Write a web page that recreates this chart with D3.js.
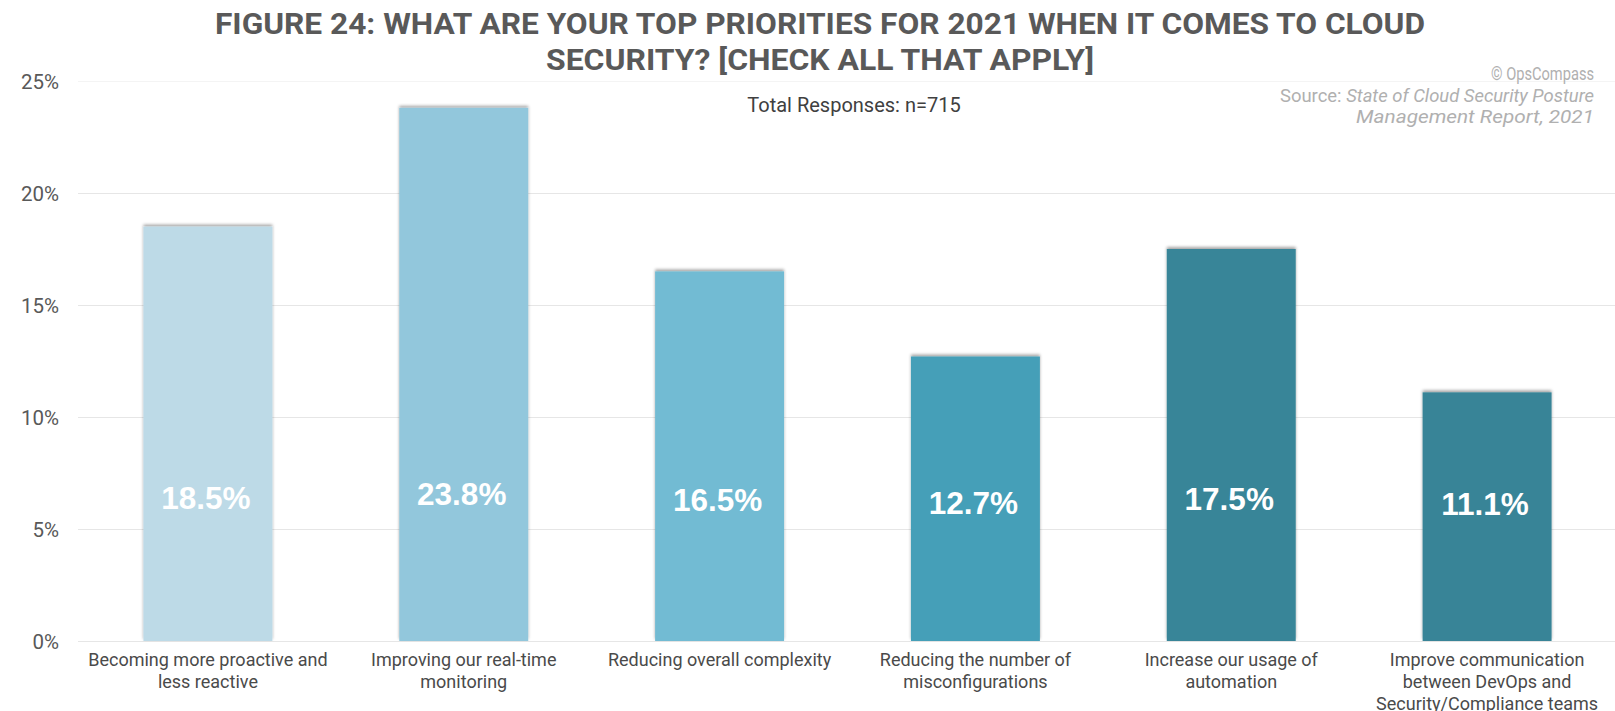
<!DOCTYPE html>
<html>
<head>
<meta charset="utf-8">
<script src="https://cdn.jsdelivr.net/npm/d3@7"></script>
<style>
  html, body { margin: 0; padding: 0; background: #fff; }
  svg { display: block; }
</style>
</head>
<body>
<svg id="chart" width="1615" height="711"></svg>
<script>
// Priorities for cloud security in 2021 (share of respondents, %)
const categories = [
  ["Becoming more proactive and", "less reactive"],
  ["Improving our real-time", "monitoring"],
  ["Reducing overall complexity"],
  ["Reducing the number of", "misconfigurations"],
  ["Increase our usage of", "automation"],
  ["Improve communication", "between DevOps and", "Security/Compliance teams"]
];
const values = [18.5, 23.8, 16.5, 12.7, 17.5, 11.1];
const barColors = ["#bddae7", "#92c7dc", "#72bbd3", "#459fb8", "#388598", "#378497"];
const yTicks = [0, 5, 10, 15, 20, 25];
const titleLines = [
  "FIGURE 24: WHAT ARE YOUR TOP PRIORITIES FOR 2021 WHEN IT COMES TO CLOUD",
  "SECURITY? [CHECK ALL THAT APPLY]"
];
const subtitle = "Total Responses: n=715";

const svg = d3.select("#chart");
const W = 1615;

const x = d3.scaleBand()
  .domain(d3.range(values.length))
  .range([80, 1615])
  .paddingInner(0.496)
  .paddingOuter(0.248);

const y = d3.scaleLinear().domain([0, 25]).range([641, 81]);

// soft shadow around each bar
const defs = svg.append("defs");
const f = defs.append("filter").attr("id", "barShadow")
  .attr("x", "-10%").attr("y", "-10%").attr("width", "120%").attr("height", "120%");
f.append("feDropShadow")
  .attr("dx", 0).attr("dy", -2)
  .attr("stdDeviation", 1.8)
  .attr("flood-color", "#000")
  .attr("flood-opacity", 0.35);

// gridlines + y tick labels
const yAxis = d3.axisLeft(y)
  .tickValues(yTicks)
  .tickSize(-(W - 78))
  .tickFormat(d => d + "%")
  .tickPadding(19);

const gy = svg.append("g").attr("transform", "translate(78,0)").call(yAxis);
gy.select(".domain").remove();
gy.selectAll(".tick line")
  .attr("stroke", d => d === 25 ? "#f4f4f4" : "#e6e6e6")
  .attr("stroke-width", 1.2);
gy.selectAll(".tick text")
  .attr("fill", "#595959")
  .style("font-family", "Roboto, 'Noto Sans', sans-serif")
  .style("font-size", "20.5px")
  .attr("dy", "0.36em");

// bars
svg.append("g").selectAll("rect")
  .data(values)
  .join("rect")
  .attr("x", (d, i) => x(i))
  .attr("width", x.bandwidth())
  .attr("y", d => y(d))
  .attr("height", d => y(0) - y(d))
  .attr("fill", (d, i) => barColors[i])
  .attr("filter", "url(#barShadow)");

// value labels inside bars
svg.append("g").selectAll("text")
  .data(values)
  .join("text")
  .attr("x", (d, i) => x(i) + x.bandwidth() / 2 - 2)
  .attr("y", d => y(5.74 + 0.035 * d))
  .attr("dy", "0.36em")
  .attr("text-anchor", "middle")
  .attr("fill", "#fff")
  .style("font-family", "'Liberation Sans', Arial, sans-serif")
  .style("font-weight", "bold")
  .style("font-size", "31.5px")
  .text(d => d.toFixed(1) + "%");

// category labels
const xl = svg.append("g").selectAll("text")
  .data(categories)
  .join("text")
  .attr("x", (d, i) => x(i) + x.bandwidth() / 2)
  .attr("y", 660)
  .attr("text-anchor", "middle")
  .attr("fill", "#4a4a4a")
  .style("font-family", "Roboto, 'Noto Sans', sans-serif")
  .style("font-size", "18px");
xl.each(function(lines) {
  const t = d3.select(this);
  lines.forEach((ln, k) => {
    t.append("tspan")
      .attr("x", t.attr("x"))
      .attr("y", 660 + k * 21.7)
      .attr("dy", "0.36em")
      .text(ln);
  });
});

// title
const titleWidths = [1210, 548];
svg.append("g").selectAll("text")
  .data(titleLines)
  .join("text")
  .attr("x", 820)
  .attr("y", (d, i) => 23 + i * 36)
  .attr("dy", "0.36em")
  .attr("text-anchor", "middle")
  .attr("fill", "#595959")
  .attr("textLength", (d, i) => titleWidths[i])
  .attr("lengthAdjust", "spacingAndGlyphs")
  .style("font-family", "Roboto, sans-serif")
  .style("font-weight", "bold")
  .style("font-size", "30px")
  .text(d => d);

svg.append("text")
  .attr("x", 854).attr("y", 105).attr("dy", "0.36em")
  .attr("text-anchor", "middle")
  .attr("fill", "#404040")
  .style("font-family", "Roboto, sans-serif")
  .style("font-size", "20px")
  .text(subtitle);

// source note, top right
const src = svg.append("g")
  .attr("fill", "#b0b0b0")
  .style("font-family", "Roboto, sans-serif")
  .style("font-size", "17.5px")
  .attr("text-anchor", "end");
src.append("text").attr("x", 1594).attr("y", 74).attr("dy", "0.36em")
  .attr("textLength", 103).attr("lengthAdjust", "spacingAndGlyphs")
  .text("© OpsCompass");
const s2 = src.append("text").attr("x", 1594).attr("y", 96).attr("dy", "0.36em")
  .attr("textLength", 314).attr("lengthAdjust", "spacingAndGlyphs");
s2.append("tspan").text("Source: ");
s2.append("tspan").style("font-style", "italic").text("State of Cloud Security Posture");
src.append("text").attr("x", 1594).attr("y", 117).attr("dy", "0.36em")
  .attr("textLength", 238).attr("lengthAdjust", "spacingAndGlyphs")
  .style("font-style", "italic").text("Management Report, 2021");
</script>
</body>
</html>
